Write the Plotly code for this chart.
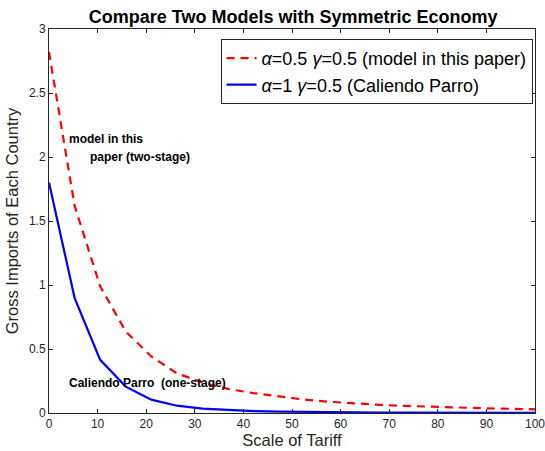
import plotly.graph_objects as go

tariff = [0, 5.263, 10.526, 15.789, 21.053, 26.316, 31.579, 36.842, 42.105, 47.368,
          52.632, 57.895, 63.158, 68.421, 73.684, 78.947, 84.211, 89.474, 94.737, 100]
model_paper = [2.82, 1.62, 0.99, 0.637, 0.442, 0.31, 0.238, 0.188, 0.155, 0.127,
               0.104, 0.087, 0.073, 0.063, 0.055, 0.048, 0.042, 0.037, 0.033, 0.029]
caliendo_parro = [1.80, 0.90, 0.415, 0.206, 0.104, 0.057, 0.034, 0.022, 0.015, 0.011,
                  0.008, 0.006, 0.005, 0.004, 0.003, 0.003, 0.002, 0.002, 0.002, 0.001]

name_red = "<i>α</i>=0.5 <i>γ</i>=0.5 (model in this paper)"
name_blue = "<i>α</i>=1 <i>γ</i>=0.5 (Caliendo Parro)"

fig = go.Figure()
fig.add_trace(go.Scatter(x=tariff, y=model_paper, mode="lines", name=name_red,
                         line=dict(color="#ff0000", width=2.2, dash="8px,6px")))
fig.add_trace(go.Scatter(x=tariff, y=caliendo_parro, mode="lines", name=name_blue,
                         line=dict(color="#0000ff", width=2.2)))

font = "Helvetica, Arial, Liberation Sans, sans-serif"
fig.update_layout(
    width=545, height=451,
    margin=dict(l=49, r=10, t=29, b=38, autoexpand=False),
    paper_bgcolor="white", plot_bgcolor="white",
    font=dict(family=font, color="#262626"),
    title=dict(text="<b>Compare Two Models with Symmetric Economy</b>",
               x=0.538, xanchor="center", y=0.963, yanchor="middle",
               font=dict(size=18, color="black")),
    showlegend=True,
    legend=dict(x=0.995, xanchor="right", y=0.974, yanchor="top",
                bgcolor="white", bordercolor="#262626", borderwidth=1,
                font=dict(size=18, color="black"), tracegroupgap=0,
                itemwidth=30),
)
fig.update_xaxes(range=[0, 100], tickvals=list(range(0, 101, 10)),
                 ticks="inside", ticklen=4, tickcolor="#262626",
                 showline=True, linecolor="#262626", linewidth=1, mirror="ticks",
                 showgrid=False, zeroline=False, automargin=False,
                 ticklabeloverflow="allow",
                 tickfont=dict(size=12, color="#262626"),
                 title=dict(text="Scale of Tariff", font=dict(size=16.5, color="#262626"), standoff=4))
fig.update_yaxes(range=[0, 3], tickvals=[0, 0.5, 1, 1.5, 2, 2.5, 3],
                 ticktext=["0", "0.5", "1", "1.5", "2", "2.5", "3"],
                 ticks="inside", ticklen=4, tickcolor="#262626",
                 showline=True, linecolor="#262626", linewidth=1, mirror="ticks",
                 showgrid=False, zeroline=False, automargin=False,
                 ticklabeloverflow="allow",
                 tickfont=dict(size=12, color="#262626"),
                 title=dict(text="Gross Imports of Each Country", font=dict(size=16.5, color="#262626"), standoff=6))

fig.add_annotation(x=3.7, y=2.14, xref="x", yref="y", text="<b>model in this</b>",
                   showarrow=False, xanchor="left", yanchor="middle",
                   font=dict(size=12, color="black", family=font))
fig.add_annotation(x=8.1, y=2.0, xref="x", yref="y", text="<b>paper (two-stage)</b>",
                   showarrow=False, xanchor="left", yanchor="middle",
                   font=dict(size=12, color="black", family=font))
fig.add_annotation(x=3.7, y=0.235, xref="x", yref="y", text="<b>Caliendo Parro  (one-stage)</b>",
                   showarrow=False, xanchor="left", yanchor="middle",
                   font=dict(size=12, color="black", family=font))

fig.write_html("out.html", config={"displayModeBar": False},
               post_script="document.body.style.margin='0';document.body.style.overflow='hidden';")
